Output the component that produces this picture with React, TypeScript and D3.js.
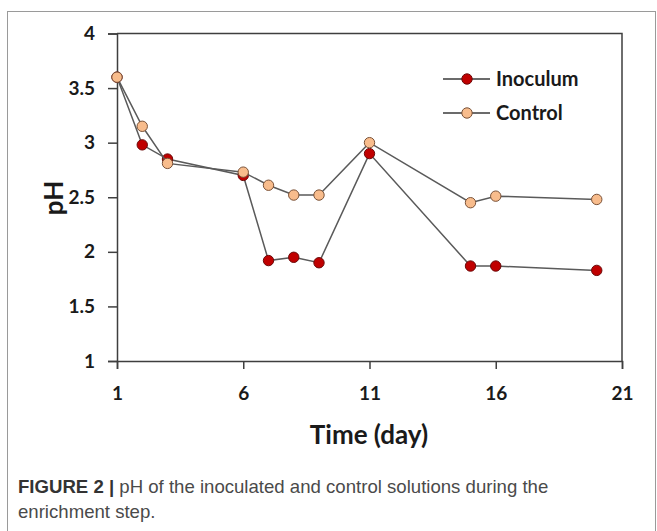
import React, { useEffect, useRef } from "react";
import * as d3 from "d3";

// pH readings per sampling day
const days = [1, 2, 3, 6, 7, 8, 9, 11, 15, 16, 20];
const inoculum = [3.6, 2.98, 2.85, 2.7, 1.92, 1.95, 1.9, 2.9, 1.87, 1.87, 1.83];
const control = [3.6, 3.15, 2.81, 2.73, 2.61, 2.52, 2.52, 3.0, 2.45, 2.51, 2.48];
const xTicks = [1, 6, 11, 16, 21];
const yTicks = [1, 1.5, 2, 2.5, 3, 3.5, 4];
const seriesNames = ["Inoculum", "Control"];

const W = 657;
const H = 531;

function PhChart() {
  const ref = useRef<SVGSVGElement>(null);

  useEffect(() => {
    const svg = d3.select(ref.current);
    svg.selectAll("*").remove();

    const font = "Lato, 'Open Sans', sans-serif";
    const axisColor = "#3f3f3f";

    const x = d3.scaleLinear().domain([1, 21]).range([117, 622]);
    const y = d3.scaleLinear().domain([1, 4]).range([361, 33.5]);

    // outer figure frame
    svg.append("rect")
      .attr("x", 7.5)
      .attr("y", 11.5)
      .attr("width", 648)
      .attr("height", 540)
      .attr("fill", "none")
      .attr("stroke", "#9a9a9a")
      .attr("stroke-width", 1);

    // plot frame (top + right)
    svg.append("path")
      .attr("d", `M${x(1)},${y(4)}H${x(21)}V${y(1)}`)
      .attr("fill", "none")
      .attr("stroke", axisColor)
      .attr("stroke-width", 1.5);

    const yAxis = svg.append("g")
      .attr("transform", `translate(${x(1)},0)`)
      .call(d3.axisLeft(y).tickValues(yTicks).tickSize(9).tickPadding(13).tickFormat(d3.format("")));

    const xAxis = svg.append("g")
      .attr("transform", `translate(0,${y(1)})`)
      .call(d3.axisBottom(x).tickValues(xTicks).tickSize(8).tickPadding(18).tickFormat(d3.format("d")));

    [yAxis, xAxis].forEach((g) => {
      g.select(".domain").attr("stroke", axisColor).attr("stroke-width", 1.5);
      g.selectAll(".tick line").attr("stroke", axisColor).attr("stroke-width", 1.5);
      g.selectAll(".tick text")
        .attr("fill", "#1a1a1a")
        .style("font-family", font)
        .style("font-weight", 700)
        .style("font-size", "19px");
    });

    // axis titles
    svg.append("text")
      .attr("x", 369)
      .attr("y", 444)
      .attr("text-anchor", "middle")
      .attr("fill", "#1a1a1a")
      .style("font-family", font)
      .style("font-weight", 700)
      .style("font-size", "26px")
      .text("Time (day)");

    svg.append("text")
      .attr("transform", "translate(63,198) rotate(-90)")
      .attr("text-anchor", "middle")
      .attr("fill", "#1a1a1a")
      .style("font-family", font)
      .style("font-weight", 700)
      .style("font-size", "26px")
      .text("pH");

    const series = [
      { name: seriesNames[0], values: inoculum, fill: "#c00000", stroke: "#6b0a0a" },
      { name: seriesNames[1], values: control, fill: "#f8bc8c", stroke: "#7a5238" },
    ];

    const line = d3.line<number>()
      .x((d, i) => x(days[i]))
      .y((d) => y(d));

    series.forEach((s) => {
      svg.append("path")
        .attr("d", line(s.values))
        .attr("fill", "none")
        .attr("stroke", "#5a5a5a")
        .attr("stroke-width", 1.5);

      svg.append("g")
        .selectAll("circle")
        .data(s.values)
        .enter()
        .append("circle")
        .attr("cx", (d, i) => x(days[i]))
        .attr("cy", (d) => y(d))
        .attr("r", 5.2)
        .attr("fill", s.fill)
        .attr("stroke", s.stroke)
        .attr("stroke-width", 1);
    });

    // legend
    const legend = svg.append("g");
    series.forEach((s, i) => {
      const ly = 79 + i * 34;
      legend.append("line")
        .attr("x1", 443).attr("x2", 490)
        .attr("y1", ly).attr("y2", ly)
        .attr("stroke", "#3a3a3a")
        .attr("stroke-width", 1.5);
      legend.append("circle")
        .attr("cx", 467).attr("cy", ly).attr("r", 5.2)
        .attr("fill", s.fill)
        .attr("stroke", s.stroke)
        .attr("stroke-width", 1);
      legend.append("text")
        .attr("x", 496)
        .attr("y", ly)
        .attr("dy", "0.35em")
        .attr("fill", "#1a1a1a")
        .style("font-family", font)
        .style("font-weight", 700)
        .style("font-size", "20px")
        .text(s.name);
    });

    // caption
    const capFont = "'Liberation Sans', Arial, sans-serif";
    const cap = svg.append("text")
      .attr("x", 18)
      .attr("y", 493)
      .style("font-family", capFont)
      .style("font-size", "18.6px")
      .attr("fill", "#4a4a4a");
    cap.append("tspan").attr("font-weight", 700).attr("fill", "#333").text("FIGURE 2 | ");
    cap.append("tspan").text("pH of the inoculated and control solutions during the");

    svg.append("text")
      .attr("x", 18)
      .attr("y", 518)
      .style("font-family", capFont)
      .style("font-size", "18.6px")
      .attr("fill", "#4a4a4a")
      .text("enrichment step.");
  }, []);

  return <svg ref={ref} width={W} height={H} style={{ display: "block" }} />;
}

export default function App() {
  return (
    <div style={{ position: "fixed", left: 0, top: 0, width: W, height: H, background: "#fff" }}>
      <PhChart />
    </div>
  );
}
